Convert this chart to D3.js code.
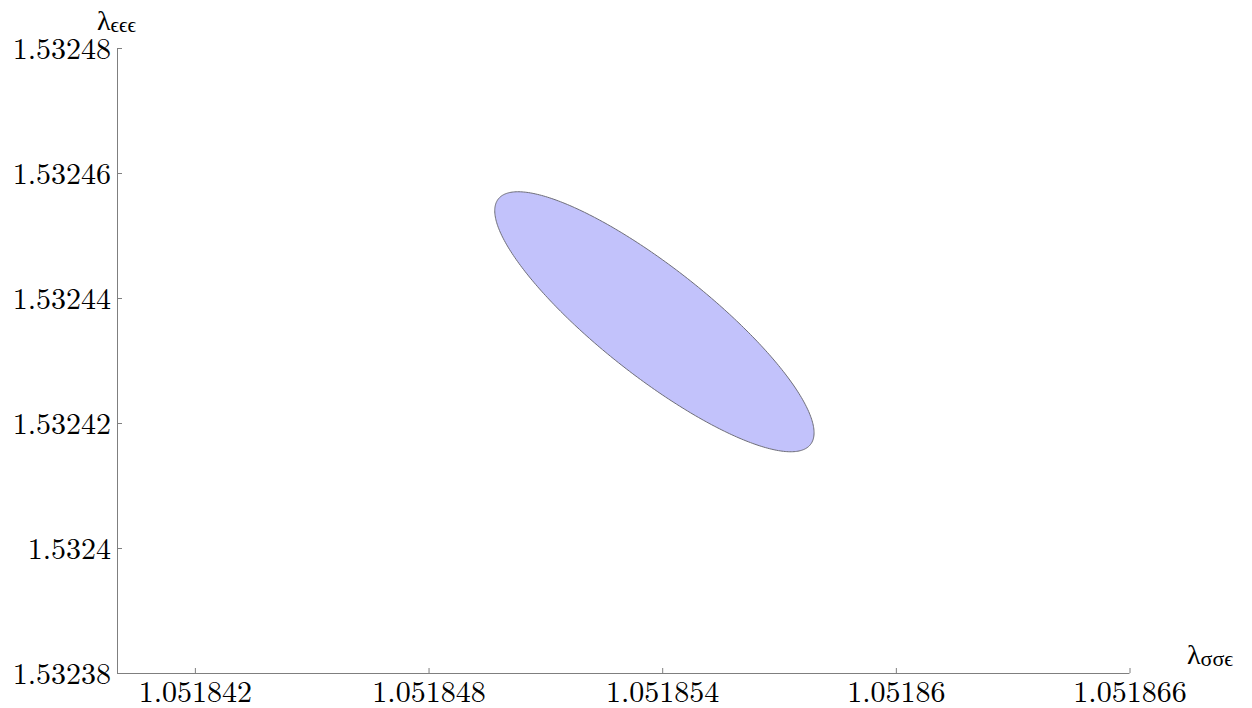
<!DOCTYPE html>
<html><head><meta charset="utf-8">
<script src="https://cdn.jsdelivr.net/npm/d3@7"></script>
<style>
html,body{margin:0;padding:0;background:#fff;}
</style></head>
<body>
<svg id="chart" width="1252" height="708"></svg>
<script>
// ---- data ----
const xDomain = [1.05184, 1.051866];
const yDomain = [1.53238, 1.53248];
const xTicks = [1.051842, 1.051848, 1.051854, 1.05186, 1.051866];
const xTickLabels = ["1.051842", "1.051848", "1.051854", "1.05186", "1.051866"];
const yTicks = [1.53238, 1.5324, 1.53242, 1.53244, 1.53246, 1.53248];
const yTickLabels = ["1.53238", "1.5324", "1.53242", "1.53244", "1.53246", "1.53248"];
// confidence ellipse: center and two conjugate half-axis vectors (data units)
const ellipseCenter = [1.0518538, 1.5324362];
const ellipseAxisU = [4.10e-6, -1.776e-5];
const ellipseAxisV = [0, 1.083e-5];

// ---- layout ----
const FONT = "'Latin Modern Roman', 'Liberation Serif', serif";
const svg = d3.select("#chart");
const mLeft = 117, mRight = 1129.5, mTop = 48, mBottom = 673;
const x = d3.scaleLinear().domain(xDomain).range([mLeft, mRight]);
const y = d3.scaleLinear().domain(yDomain).range([mBottom, mTop]);
const axisColor = "#7f7f7f";

// ellipse
const N = 360;
const pts = d3.range(N).map(i => {
  const t = 2 * Math.PI * i / N;
  return [ellipseCenter[0] + ellipseAxisU[0] * Math.cos(t) + ellipseAxisV[0] * Math.sin(t),
          ellipseCenter[1] + ellipseAxisU[1] * Math.cos(t) + ellipseAxisV[1] * Math.sin(t)];
});
svg.append("path")
  .attr("d", d3.line().x(d => x(d[0])).y(d => y(d[1])).curve(d3.curveLinearClosed)(pts))
  .attr("fill", "#c2c2fb")
  .attr("stroke", "#6e6e78")
  .attr("stroke-width", 1);

// x axis
const xAxis = d3.axisBottom(x).tickValues(xTicks).tickSizeInner(-5).tickSizeOuter(0)
  .tickFormat((d, i) => xTickLabels[i]);
const gx = svg.append("g").attr("transform", `translate(0,${mBottom})`).call(xAxis)
  .attr("font-family", null).attr("font-size", null);
gx.select(".domain").attr("stroke", axisColor).attr("d", `M${mLeft},0.5H${mRight}`);
gx.selectAll(".tick line").attr("stroke", axisColor);
gx.selectAll(".tick text").attr("y", 29).attr("dy", 0)
  .style("font-family", FONT).style("font-size", "30px");

// y axis
const yAxis = d3.axisLeft(y).tickValues(yTicks).tickSizeInner(-5).tickSizeOuter(0)
  .tickFormat((d, i) => yTickLabels[i]);
const gy = svg.append("g").attr("transform", `translate(${mLeft},0)`).call(yAxis)
  .attr("font-family", null).attr("font-size", null);
gy.select(".domain").attr("stroke", axisColor).attr("d", `M0.5,${mTop}V${mBottom}`);
gy.selectAll(".tick line").attr("stroke", axisColor);
gy.selectAll(".tick text").attr("x", -6).attr("dy", "0.34em")
  .style("font-family", FONT).style("font-size", "30px");

// axis labels
const yl = svg.append("text").attr("x", 97).attr("y", 30)
  .style("font-family", FONT).style("font-size", "28px");
yl.append("tspan").text("λ");
yl.append("tspan").style("font-size", "21px").attr("dy", 2).text("ϵϵϵ");

const xl = svg.append("text").attr("x", 1187).attr("y", 664)
  .style("font-family", FONT).style("font-size", "28px");
xl.append("tspan").text("λ");
xl.append("tspan").style("font-size", "22px").attr("dy", 2).text("σσϵ");
</script>
</body></html>
